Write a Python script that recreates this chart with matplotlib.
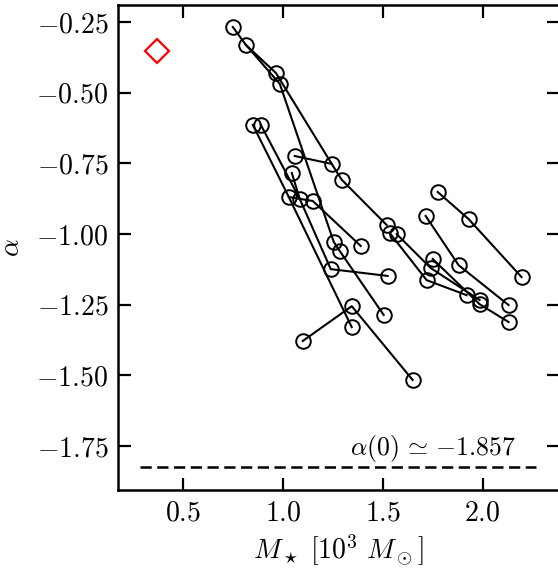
import matplotlib
matplotlib.use("Agg")
import matplotlib.pyplot as plt

plt.rcParams["font.family"] = "serif"
plt.rcParams["font.serif"] = ["cmr10"]
plt.rcParams["mathtext.fontset"] = "cm"
plt.rcParams["axes.formatter.use_mathtext"] = True
plt.rcParams["font.size"] = 20

# tracks: M_star [10^3 Msun] and alpha
track_x = [
    [0.75, 0.815, 0.985, 1.255, 1.285, 1.505],
    [0.815, 0.965, 1.245, 1.295, 1.52],
    [1.06, 1.245],
    [0.85, 1.03, 1.345],
    [0.89, 1.085, 1.24, 1.525],
    [1.045, 1.085],
    [1.03, 1.15, 1.39],
    [1.10, 1.345, 1.65],
    [1.535, 1.72, 1.92],
    [1.57, 1.74, 1.985],
    [1.75, 1.985, 2.13],
    [1.775, 1.93, 2.195],
    [1.715, 1.88, 2.13],
]
track_y = [
    [-0.268, -0.331, -0.469, -1.028, -1.060, -1.286],
    [-0.331, -0.430, -0.752, -0.808, -0.968],
    [-0.724, -0.752],
    [-0.614, -0.869, -1.329],
    [-0.614, -0.876, -1.124, -1.148],
    [-0.784, -0.876],
    [-0.869, -0.883, -1.042],
    [-1.378, -1.255, -1.516],
    [-0.996, -1.163, -1.216],
    [-1.000, -1.120, -1.233],
    [-1.088, -1.248, -1.311],
    [-0.851, -0.947, -1.152],
    [-0.936, -1.110, -1.251],
]

ref_x, ref_y = 0.37, -0.352
alpha0 = -1.823
alpha0_span = [0.285, 2.265]

fig = plt.figure(figsize=(5.58, 5.69), dpi=100)
ax = fig.add_axes([118 / 558, 79 / 569, 440.5 / 558, 485 / 569])

# lines first, then each point once (some points are shared by two tracks)
seen = set()
for xs, ys in zip(track_x, track_y):
    ax.plot(xs, ys, color="black", lw=1.5)
    for x, y in zip(xs, ys):
        if (x, y) in seen:
            continue
        seen.add((x, y))
        ax.plot(x, y, marker="o", ms=10.5, mfc="none", mec="black", mew=1.4)

ax.plot(ref_x, ref_y, marker="D", ms=12, mfc="none", mec="red", mew=1.6)

ax.plot(alpha0_span, [alpha0, alpha0], color="black", lw=1.8, ls=(0, (4.5, 2.2)))
ax.text(2.165, alpha0 + 0.065, r"$\alpha(0)\,\simeq\,{-1.857}$",
        ha="right", va="center", fontsize=18.5)

ax.set_xlim(0.175, 2.38)
ax.set_ylim(-1.905, -0.19)
ax.set_xticks([0.5, 1.0, 1.5, 2.0])
ax.set_yticks([-1.75, -1.5, -1.25, -1.0, -0.75, -0.5, -0.25])
ax.xaxis.set_major_formatter(matplotlib.ticker.FormatStrFormatter(r"$%.1f$"))
ax.yaxis.set_major_formatter(matplotlib.ticker.FuncFormatter(
    lambda v, p: r"$%.2f$" % v))
ax.tick_params(direction="in", length=9, width=1.6, top=True, right=True,
               pad=7)
for s in ax.spines.values():
    s.set_linewidth(1.8)

ax.set_xlabel(r"$M_\star\ [10^3\ M_\odot]$", labelpad=5)
ax.set_ylabel(r"$\alpha$", labelpad=8)

fig.savefig("out.png", dpi=100)
